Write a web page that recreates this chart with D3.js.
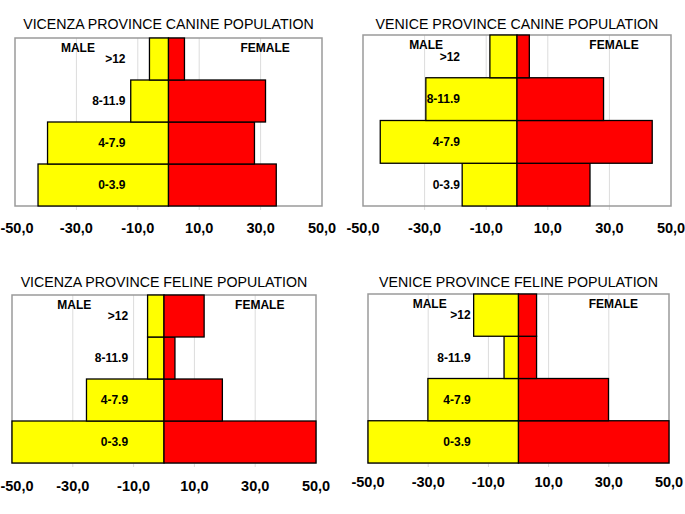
<!DOCTYPE html>
<html>
<head>
<meta charset="utf-8">
<script src="https://cdn.jsdelivr.net/npm/d3@7"></script>
<style>
body{margin:0;background:#fff;}
svg{display:block;font-family:"Liberation Sans",Arial,sans-serif;}
.title{font-size:14.2px;}
.tick-label{font-size:14.5px;font-weight:bold;}
.sex{font-size:12px;font-weight:bold;}
.cat{font-size:12px;font-weight:bold;}
</style>
</head>
<body>
<div id="canvas"></div>
<script>
// age classes, bottom to top
var categories = ['0-3.9','4-7.9','8-11.9','>12'];

// percentages per age class (male drawn to the left)
var vicenzaCanineMale   = [42.5, 39.4, 12.3, 6.2];
var vicenzaCanineFemale = [35.1, 28.0, 31.6, 5.2];
var veniceCanineMale    = [17.8, 44.4, 29.6, 8.8];
var veniceCanineFemale  = [23.7, 43.9, 28.1, 4.0];
var vicenzaFelineMale   = [50.0, 25.5, 5.4, 5.4];
var vicenzaFelineFemale = [50.0, 19.2, 3.6, 13.2];
var veniceFelineMale    = [50.0, 30.1, 4.8, 14.9];
var veniceFelineFemale  = [50.0, 29.9, 6.0, 6.0];

var tickValues = [-50,-30,-10,10,30,50];
var tickLabels = ['-50,0','-30,0','-10,0','10,0','30,0','50,0'];

var titles = ['VICENZA PROVINCE CANINE POPULATION','VENICE PROVINCE CANINE POPULATION',
              'VICENZA PROVINCE FELINE POPULATION','VENICE PROVINCE FELINE POPULATION'];

var W = 685, H = 514;
var svg = d3.select('#canvas').append('svg')
    .attr('width',W)
    .attr('height',H);

// panel frames: left, right, top, bottom, title y, tick y, x of category labels (in data units)
var panels = [
  {l:15,  r:322, t:38,  b:206, ty:24,  ky:228, catX:-14,  male:vicenzaCanineMale, female:vicenzaCanineFemale},
  {l:363, r:671, t:35,  b:206, ty:24,  ky:228, catX:-18.5,male:veniceCanineMale,  female:veniceCanineFemale},
  {l:12,  r:316, t:295, b:463, ty:282, ky:486, catX:-11.8,male:vicenzaFelineMale, female:vicenzaFelineFemale},
  {l:368, r:669, t:294, b:463, ty:282, ky:482, catX:-15.9,male:veniceFelineMale,  female:veniceFelineFemale}
];

panels.forEach(function(p,i){
    var g = svg.append('g');

    var x = d3.scaleLinear().domain([-50,50]).range([p.l,p.r]);
    var y = d3.scaleBand().domain(categories.slice().reverse()).range([p.t,p.b]).padding(0);

    // title
    g.append('text')
        .attr('class','title')
        .attr('x',(p.l+p.r)/2)
        .attr('y',p.ty)
        .attr('dy','0.35em')
        .attr('text-anchor','middle')
        .text(titles[i]);

    // gridlines
    g.selectAll('.grid')
        .data(tickValues.filter(function(d){return Math.abs(d)<50;}))
        .enter().append('line')
        .attr('class','grid')
        .attr('x1',function(d){return x(d)})
        .attr('x2',function(d){return x(d)})
        .attr('y1',p.t)
        .attr('y2',p.b+4)
        .attr('stroke','#dcdcdc')
        .attr('stroke-width',1);

    // frame
    g.append('rect')
        .attr('x',p.l).attr('y',p.t)
        .attr('width',p.r-p.l).attr('height',p.b-p.t)
        .attr('fill','none')
        .attr('stroke','#9a9a9a')
        .attr('stroke-width',1.5);

    // bars
    var rows = categories.map(function(c,k){
        return {cat:c, male:p.male[k], female:p.female[k]};
    });

    g.selectAll('.male')
        .data(rows)
        .enter().append('rect')
        .attr('class','male')
        .attr('x',function(d){return x(-d.male)})
        .attr('y',function(d){return y(d.cat)})
        .attr('width',function(d){return x(0)-x(-d.male)})
        .attr('height',y.bandwidth())
        .attr('fill','#ffff00')
        .attr('stroke','#000')
        .attr('stroke-width',1.3);

    g.selectAll('.female')
        .data(rows)
        .enter().append('rect')
        .attr('class','female')
        .attr('x',x(0))
        .attr('y',function(d){return y(d.cat)})
        .attr('width',function(d){return x(d.female)-x(0)})
        .attr('height',y.bandwidth())
        .attr('fill','#ff0000')
        .attr('stroke','#000')
        .attr('stroke-width',1.3);

    // category labels
    g.selectAll('.cat')
        .data(rows)
        .enter().append('text')
        .attr('class','cat')
        .attr('x',x(p.catX))
        .attr('y',function(d){return y(d.cat)+y.bandwidth()/2})
        .attr('dy','0.35em')
        .attr('text-anchor','end')
        .text(function(d){return d.cat});

    // MALE / FEMALE
    g.append('text').attr('class','sex')
        .attr('x',x(-29.5)).attr('y',p.t+10).attr('dy','0.35em')
        .attr('text-anchor','middle').text('MALE');
    g.append('text').attr('class','sex')
        .attr('x',x(31.5)).attr('y',p.t+10).attr('dy','0.35em')
        .attr('text-anchor','middle').text('FEMALE');

    // tick labels (keep the outer ones inside the page)
    g.selectAll('.tick-label')
        .data(tickValues)
        .enter().append('text')
        .attr('class','tick-label')
        .attr('x',function(d){return Math.max(x(d),17)})
        .attr('y',p.ky)
        .attr('dy','0.35em')
        .attr('text-anchor','middle')
        .text(function(d,k){return tickLabels[k]});
});
</script>
</body>
</html>
